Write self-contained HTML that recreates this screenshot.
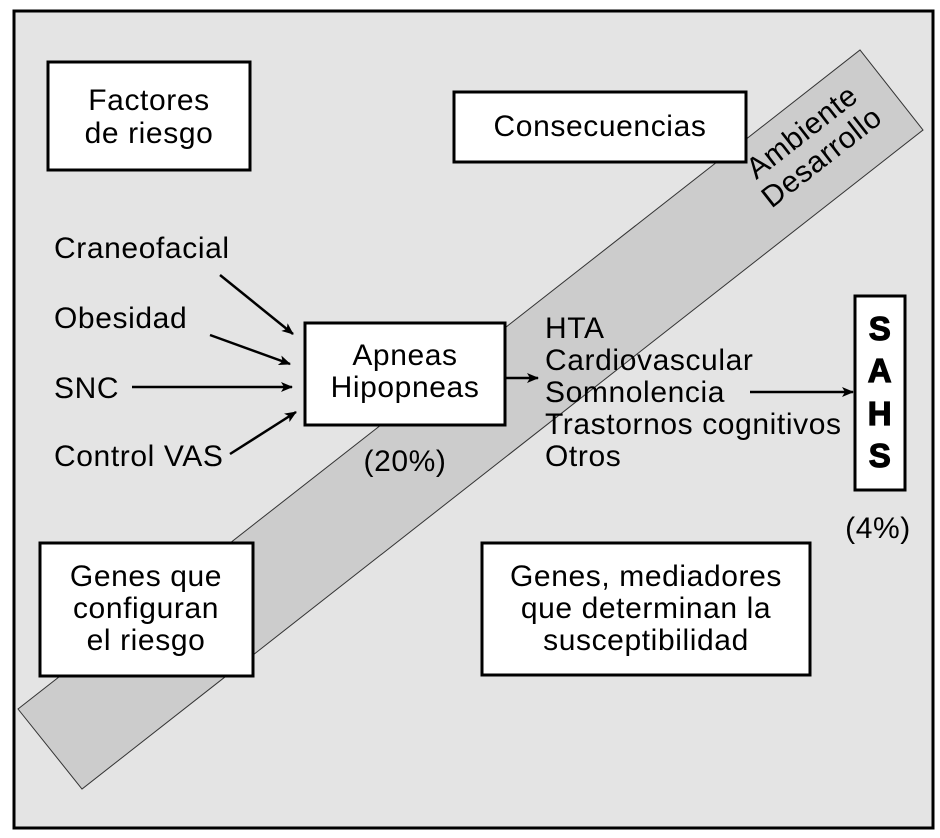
<!DOCTYPE html>
<html><head><meta charset="utf-8"><style>
html,body{margin:0;padding:0;background:#fff}
svg{display:block}
text{font-family:"Liberation Sans",sans-serif;font-size:30px;letter-spacing:0.6px;fill:#000}
</style></head><body>
<svg width="940" height="838" viewBox="0 0 940 838" xmlns="http://www.w3.org/2000/svg">
<defs><marker id="a" markerWidth="12" markerHeight="10" refX="11" refY="5" orient="auto" markerUnits="userSpaceOnUse"><path d="M0,0 L12,5 L0,10 L3,5 Z" fill="#000"/></marker></defs>
<rect x="14" y="11" width="919" height="817" fill="#e4e4e4" stroke="#000" stroke-width="3"/>
<polygon points="18,709 860,50 923,130 82,789" fill="#cccccc" stroke="#333" stroke-width="1"/>
<g fill="#fff" stroke="#000" stroke-width="3">
<rect x="48" y="62" width="202" height="108"/>
<rect x="454" y="92" width="292" height="70"/>
<rect x="305" y="323" width="200" height="102"/>
<rect x="40" y="543" width="213" height="133"/>
<rect x="482" y="543" width="328" height="132"/>
<rect x="855" y="296" width="50" height="194"/>
</g>
<text x="149" y="110" text-anchor="middle">Factores</text>
<text x="149" y="143" text-anchor="middle">de riesgo</text>
<text x="600" y="136" text-anchor="middle">Consecuencias</text>
<text x="405" y="365" text-anchor="middle">Apneas</text>
<text x="405" y="397" text-anchor="middle">Hipopneas</text>
<text x="405" y="471" text-anchor="middle">(20%)</text>
<text x="146" y="586" text-anchor="middle">Genes que</text>
<text x="146" y="618" text-anchor="middle">configuran</text>
<text x="146" y="650" text-anchor="middle">el riesgo</text>
<text x="646" y="586" text-anchor="middle">Genes, mediadores</text>
<text x="646" y="618" text-anchor="middle">que determinan la</text>
<text x="646" y="650" text-anchor="middle">susceptibilidad</text>
<text x="54" y="258">Craneofacial</text>
<text x="54" y="328">Obesidad</text>
<text x="54" y="398">SNC</text>
<text x="54" y="466">Control VAS</text>
<text x="545" y="338">HTA</text>
<text x="545" y="370">Cardiovascular</text>
<text x="545" y="402">Somnolencia</text>
<text x="545" y="434">Trastornos cognitivos</text>
<text x="545" y="466">Otros</text>
<text x="878" y="538" text-anchor="middle">(4%)</text>
<g text-anchor="middle">
<text x="880" y="340" style="font-weight:900;font-size:33px;stroke:#000;stroke-width:1.2">S</text>
<text x="880" y="382" style="font-weight:900;font-size:33px;stroke:#000;stroke-width:1.2">A</text>
<text x="880" y="425" style="font-weight:900;font-size:33px;stroke:#000;stroke-width:1.2">H</text>
<text x="880" y="467" style="font-weight:900;font-size:33px;stroke:#000;stroke-width:1.2">S</text>
</g>
<g transform="translate(813,146) rotate(-38)">
<text x="0" y="-8" text-anchor="middle">Ambiente</text>
<text x="0" y="24" text-anchor="middle">Desarrollo</text>
</g>
<g stroke="#000" stroke-width="2.5" marker-end="url(#a)">
<line x1="220" y1="275" x2="293" y2="334"/>
<line x1="210" y1="335" x2="290" y2="364"/>
<line x1="132" y1="387" x2="292" y2="387"/>
<line x1="230" y1="454" x2="296" y2="412"/>
<line x1="505" y1="378" x2="538" y2="378"/>
<line x1="750" y1="392" x2="853" y2="392"/>
</g>
</svg>
</body></html>
